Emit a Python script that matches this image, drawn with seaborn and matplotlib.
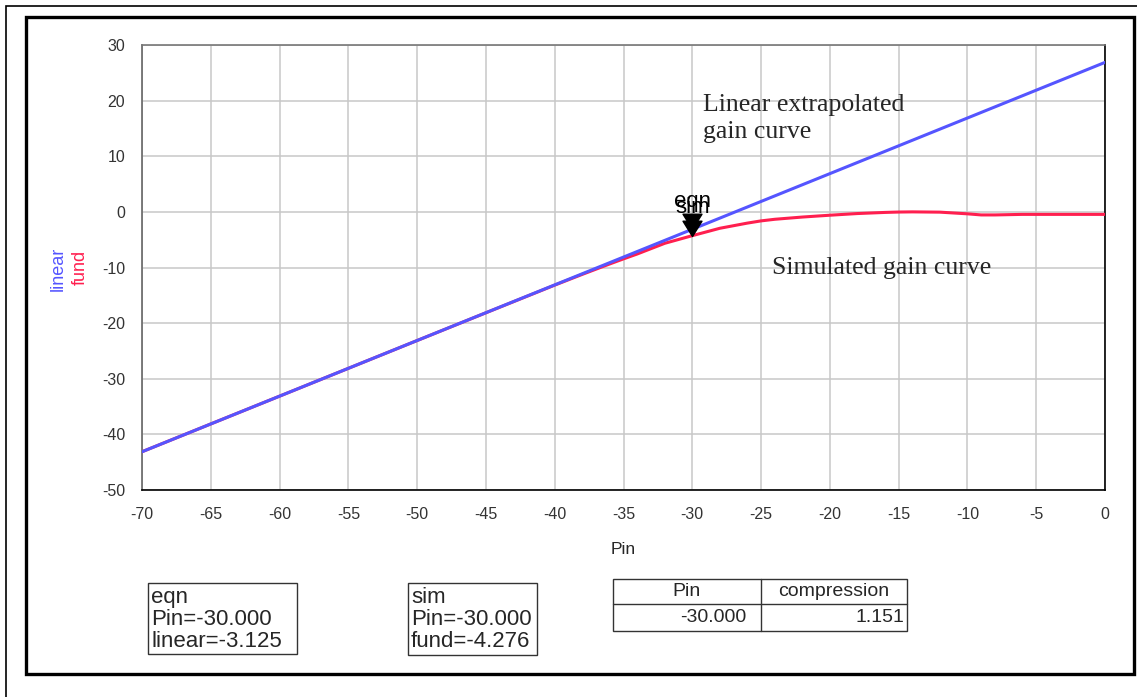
import matplotlib
matplotlib.use("Agg")
import matplotlib.pyplot as plt
from matplotlib.patches import Rectangle
from matplotlib.path import Path
from matplotlib.ticker import MultipleLocator
import seaborn as sns
import pandas as pd

# Swept input power (dBm) and the two gain curves
pin = [-70, -65, -60, -55, -50, -45, -40, -38, -36, -35, -34, -32, -30,
       -28, -26, -25, -24, -22, -20, -18, -16, -15, -14, -12, -11, -10,
       -9, -8, -6, -4, -2, 0]
linear = [-43.125, -38.125, -33.125, -28.125, -23.125, -18.125, -13.125,
          -11.125, -9.125, -8.125, -7.125, -5.125, -3.125, -1.125, 0.875,
          1.875, 2.875, 4.875, 6.875, 8.875, 10.875, 11.875, 12.875, 14.875,
          15.875, 16.875, 17.875, 18.875, 20.875, 22.875, 24.875, 26.875]
fund = [-43.125, -38.125, -33.13, -28.13, -23.13, -18.14, -13.17, -11.24,
        -9.36, -8.45, -7.57, -5.65, -4.276, -2.95, -2.02, -1.62, -1.33,
        -0.93, -0.6, -0.3, -0.1, -0.03, 0.0, -0.05, -0.2, -0.35, -0.55,
        -0.55, -0.45, -0.45, -0.45, -0.45]

marker_pin = -30.0
compression = 1.151
xticks = [-70, -65, -60, -55, -50, -45, -40, -35, -30, -25, -20, -15, -10, -5, 0]
yticks = [-50, -40, -30, -20, -10, 0, 10, 20, 30]

BLUE = "#5555ff"
RED = "#ff1f4f"

df = pd.DataFrame({"Pin": pin, "linear": linear, "fund": fund})

sns.set_style("white")
plt.rcParams["font.family"] = ["Liberation Sans", "DejaVu Sans"]

W, H = 1137, 697
fig = plt.figure(figsize=(W / 100, H / 100), dpi=100)


def fx(x):
    return x / W


def fy(y):
    return 1 - y / H


ax = fig.add_axes([fx(142), fy(490), fx(1105) - fx(142), fy(45) - fy(490)])

sns.lineplot(data=df, x="Pin", y="fund", color=RED, lw=2.2, ax=ax, zorder=3)
sns.lineplot(data=df, x="Pin", y="linear", color=BLUE, lw=2.2, ax=ax, zorder=4)

ax.set_xlim(-70, 0)
ax.set_ylim(-50, 30)
ax.set_xticks(xticks)
ax.set_yticks(yticks)
ax.xaxis.set_minor_locator(MultipleLocator(1))
ax.yaxis.set_minor_locator(MultipleLocator(5))
ax.grid(True, which="major", color="#c8c8c8", lw=1.1)
ax.set_axisbelow(True)

ax.tick_params(axis="x", which="major", length=10, width=1, color="black",
               labelsize=11.5, labelcolor="#333333", pad=2, direction="out")
ax.tick_params(axis="x", which="minor", length=5, width=1, color="black",
               direction="out")
ax.tick_params(axis="y", which="major", length=11, width=1, color="#555555",
               labelsize=11.5, labelcolor="#333333", pad=1, direction="out")
ax.tick_params(axis="y", which="minor", length=5, width=1, color="#555555",
               direction="out")
ax.set_xticklabels([str(t) for t in xticks])
ax.set_yticklabels([str(t) for t in yticks])

for side, col in [("left", "#666666"), ("top", "#777777"),
                  ("bottom", "black"), ("right", "black")]:
    ax.spines[side].set_color(col)
    ax.spines[side].set_linewidth(1.2)

ax.set_xlabel("Pin", fontsize=12.5, labelpad=15)
ax.set_ylabel("")

# Down-pointing marker with its tip at the data point
tri = Path([(-0.62, 1.0), (0.62, 1.0), (0.0, 0.0), (-0.62, 1.0)],
           [Path.MOVETO, Path.LINETO, Path.LINETO, Path.CLOSEPOLY])
i = pin.index(int(marker_pin))
for val, name in [(linear[i], "eqn"), (fund[i], "sim")]:
    ax.plot([marker_pin], [val], marker=tri, markersize=22, color="black",
            linestyle="none", zorder=6)
    ax.annotate(name, xy=(marker_pin, val), xytext=(0, 16),
                textcoords="offset points", ha="center", va="baseline",
                fontsize=16, color="black", zorder=7)

ax.text(-29.2, 16.8, "Linear extrapolated\ngain curve", fontsize=18.5,
        family="Liberation Serif", ha="left", va="center", linespacing=1.3)
ax.text(-24.2, -10.1, "Simulated gain curve", fontsize=18.5,
        family="Liberation Serif", ha="left", va="center")

# Stacked axis label: one trace name per colour
fig.text(fx(58), fy(269), "linear", rotation=90, color=BLUE, fontsize=13,
         ha="center", va="center")
fig.text(fx(80), fy(267), "fund", rotation=90, color=RED, fontsize=13,
         ha="center", va="center")

# Page frames
fig.add_artist(Rectangle((fx(5.5), fy(760)), fx(1200), fy(5.5) - fy(760),
                         transform=fig.transFigure, fill=False, lw=1.2,
                         ec="black"))
fig.add_artist(Rectangle((fx(26), fy(674)), fx(1134) - fx(26), fy(17) - fy(674),
                         transform=fig.transFigure, fill=False, lw=2.4,
                         ec="black"))


def readout(x0, x1, y0, y1, lines):
    fig.add_artist(Rectangle((fx(x0), fy(y1)), fx(x1) - fx(x0), fy(y0) - fy(y1),
                             transform=fig.transFigure, fill=False, lw=1,
                             ec="#333333"))
    fig.text(fx(x0 + 3), fy(y0 + 4), "\n".join(lines), fontsize=16,
             ha="left", va="top", linespacing=1.06)


readout(148, 297, 583, 654, ["eqn", f"Pin={marker_pin:.3f}",
                             f"linear={linear[i]:.3f}"])
readout(408, 537, 583, 655, ["sim", f"Pin={marker_pin:.3f}",
                             f"fund={fund[i]:.3f}"])

# Compression table
tx0, tx1, tcol, ty0, trow, ty1 = 613, 907, 761, 579, 604, 631
fig.add_artist(Rectangle((fx(tx0), fy(ty1)), fx(tx1) - fx(tx0), fy(ty0) - fy(ty1),
                         transform=fig.transFigure, fill=False, lw=1,
                         ec="#333333"))
fig.add_artist(plt.Line2D([fx(tx0), fx(tx1)], [fy(trow), fy(trow)],
                          transform=fig.transFigure, lw=1, color="#333333"))
fig.add_artist(plt.Line2D([fx(tcol), fx(tcol)], [fy(ty0), fy(ty1)],
                          transform=fig.transFigure, lw=1, color="#333333"))
fig.text(fx((tx0 + tcol) / 2), fy((ty0 + trow) / 2), "Pin", fontsize=14,
         ha="center", va="center")
fig.text(fx((tcol + tx1) / 2), fy((ty0 + trow) / 2), "compression", fontsize=14,
         ha="center", va="center")
fig.text(fx(tcol - 15), fy((trow + ty1) / 2), f"{marker_pin:.3f}", fontsize=14,
         ha="right", va="center")
fig.text(fx(tx1 - 3), fy((trow + ty1) / 2), f"{compression:.3f}", fontsize=14,
         ha="right", va="center")

fig.savefig("out.png", dpi=100)
